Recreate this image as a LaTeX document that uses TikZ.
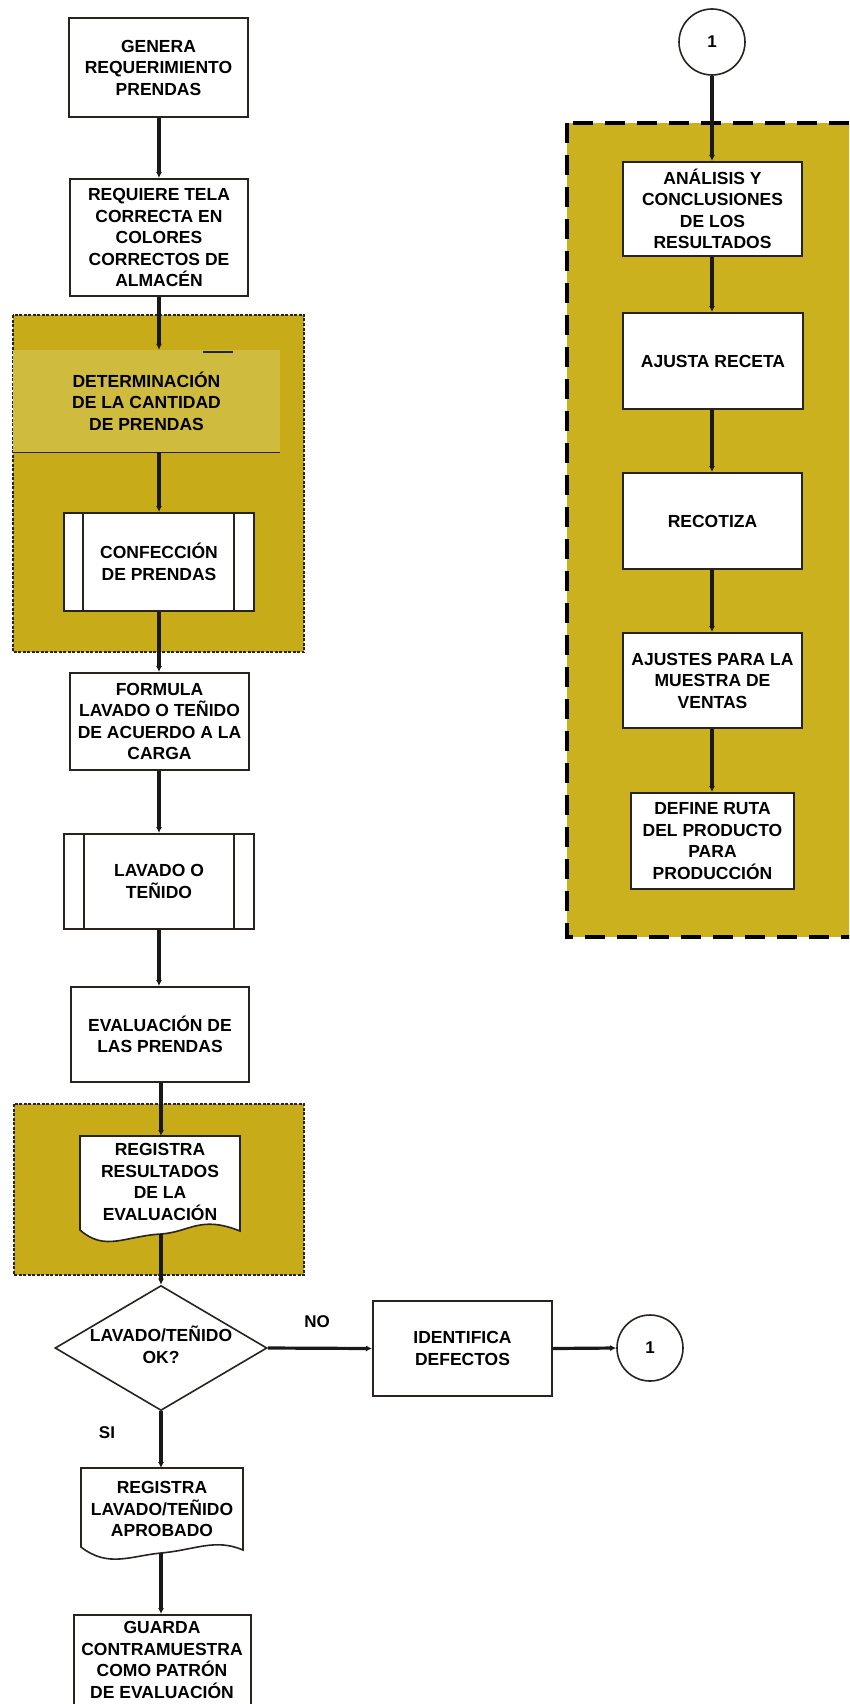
\documentclass[tikz,border=0pt]{standalone}
\usepackage{fontspec}
\setmainfont{Liberation Sans}
\usetikzlibrary{arrows.meta,shapes.geometric}
\definecolor{mustard}{RGB}{200,171,24}
\definecolor{mustardlight}{RGB}{207,187,62}
\definecolor{mustardright}{RGB}{204,177,30}
\definecolor{edge}{RGB}{40,35,30}
\tikzset{
  x=1pt,y=-1pt,
  txt/.style={font=\fontsize{17.5}{21.5}\selectfont\bfseries, align=center, text=black},
  box/.style={txt, draw=edge, line width=2pt, fill=white, inner sep=0pt},
  link/.style={draw=black!90, line width=3.2pt, -{Latex[length=6pt,width=6pt]}},
  conn/.style={circle, draw=edge, line width=1.6pt, fill=white, minimum size=66pt, inner sep=0pt, font=\fontsize{17}{20}\selectfont\bfseries},
  lbl/.style={font=\fontsize{17}{20}\selectfont\bfseries, text=black},
}
\newcommand{\boxat}[6]{% name, x0,y0,x1,y1, text
  \node[box, minimum width={#4-#2}, minimum height={#5-#3}] (#1) at ({(#2+#4)/2},{(#3+#5)/2}) {#6};}
\begin{document}
\begin{tikzpicture}
\useasboundingbox (0,0) rectangle (849,1704);
\clip (0,0) rectangle (849,1704);
\fill[white] (0,0) rectangle (849,1704);

% yellow regions
\fill[mustard] (13,315) rectangle (304,652);
\draw[edge, line width=1.3pt, dash pattern=on 3pt off 1.5pt] (13,315) rectangle (304,652);
\fill[mustard] (14,1104) rectangle (304,1275);
\draw[edge, line width=1.3pt, dash pattern=on 3pt off 1.5pt] (14,1104) rectangle (304,1275);
\fill[mustardright] (567,123) rectangle (870,937);
\draw[black, line width=3.6pt, dash pattern=on 20pt off 12pt] (567,123) rectangle (870,937);

% left column
\boxat{genera}{69}{18}{248}{117}{GENERA\\REQUERIMIENTO\\PRENDAS}
\boxat{requiere}{70}{179}{248}{296}{REQUIERE TELA\\CORRECTA EN\\COLORES\\CORRECTOS DE\\ALMACÉN}
\node[txt, fill=mustardlight, minimum width=267pt, minimum height=102pt, inner sep=0pt] (determ) at (146.5,401) {DETERMINACIÓN\\DE LA CANTIDAD\\DE PRENDAS};
\draw[edge, line width=1.2pt] (determ.south west) -- (determ.south east);
\draw[edge, line width=2.2pt] (203,352) -- (233,352);
\boxat{confec}{64}{513}{254}{611}{CONFECCIÓN\\DE PRENDAS}
\draw[edge, line width=1.6pt] (83,513) -- (83,611) (234,513) -- (234,611);
\boxat{formula}{70}{673}{249}{770}{FORMULA\\LAVADO O TEÑIDO\\DE ACUERDO A LA\\CARGA}
\boxat{lavado}{64}{834}{254}{929}{LAVADO O\\TEÑIDO}
\draw[edge, line width=1.6pt] (84,834) -- (84,929) (234,834) -- (234,929);
\boxat{evalua}{71}{987}{249}{1082}{EVALUACIÓN DE\\LAS PRENDAS}

% document 1
\draw[edge, line width=1.6pt, fill=white] (80,1136) -- (240,1136) -- (240,1231)
  .. controls (200,1215) and (190,1232) .. (161,1234)
  .. controls (125,1236) and (105,1252) .. (80,1230) -- cycle;
\node[txt, inner sep=0pt] (regres) at (160,1182) {REGISTRA\\RESULTADOS\\DE LA\\EVALUACIÓN};
\coordinate (regresbot) at (161,1234);
\coordinate (regrestop) at (161,1136);

% decision
\node[diamond, draw=edge, line width=1.6pt, fill=white, minimum width=212pt, minimum height=125pt, inner sep=0pt, aspect=1.7] (dec) at (161,1348) {};
\node[txt] (dectext) at (161,1345) {LAVADO/TEÑIDO\\OK?};
\node[lbl] (no) at (317,1322) {NO};
\node[lbl] (si) at (107,1433) {SI};

\boxat{ident}{373}{1301}{552}{1396}{IDENTIFICA\\DEFECTOS}
\node[conn] (c1b) at (650,1348) {1};

% document 2
\draw[edge, line width=1.6pt, fill=white] (81,1468) -- (243,1468) -- (243,1550)
  .. controls (215,1538) and (195,1550) .. (161,1553)
  .. controls (130,1556) and (108,1568) .. (81,1547) -- cycle;
\node[txt, inner sep=0pt] (reglav) at (162,1509) {REGISTRA\\LAVADO/TEÑIDO\\APROBADO};
\coordinate (reglavbot) at (161,1553);
\coordinate (reglavtop) at (161,1468);

\boxat{guarda}{74}{1615}{251}{1720}{}
\node[txt, inner sep=0pt] (guardatext) at (162,1660) {GUARDA\\CONTRAMUESTRA\\COMO PATRÓN\\DE EVALUACIÓN};

% right column
\node[conn] (c1a) at (712,42) {1};
\boxat{analisis}{623}{162}{802}{256}{ANÁLISIS Y\\CONCLUSIONES\\DE LOS\\RESULTADOS}
\boxat{ajusta}{623}{313}{803}{409}{AJUSTA RECETA}
\boxat{recotiza}{623}{473}{802}{569}{RECOTIZA}
\boxat{ajustes}{623}{633}{802}{728}{AJUSTES PARA LA\\MUESTRA DE\\VENTAS}
\boxat{define}{631}{793}{794}{889}{DEFINE RUTA\\DEL PRODUCTO\\PARA\\PRODUCCIÓN}

% connectors left
\draw[link] (genera.south -| 159,0) -- (requiere.north -| 159,0);
\draw[link] (requiere.south -| 159,0) -- (determ.north -| 159,0);
\draw[link] (determ.south -| 159,0) -- (confec.north -| 159,0);
\draw[link] (confec.south -| 159,0) -- (formula.north -| 159,0);
\draw[link] (formula.south -| 159,0) -- (lavado.north -| 159,0);
\draw[link] (lavado.south -| 159,0) -- (evalua.north -| 159,0);
\draw[link] (evalua.south -| regrestop) -- (regrestop);
\draw[link] (regresbot) -- (dec.north);
\draw[link] (dec.south) -- (reglavtop);
\draw[link] (reglavbot) -- (guarda.north -| reglavbot);
\draw[link] (dec.east) -- (ident.west);
\draw[link] (ident.east) -- (c1b.west);

% connectors right
\draw[link] (c1a.south) -- (analisis.north -| c1a);
\draw[link] (analisis.south -| c1a) -- (ajusta.north -| c1a);
\draw[link] (ajusta.south -| c1a) -- (recotiza.north -| c1a);
\draw[link] (recotiza.south -| c1a) -- (ajustes.north -| c1a);
\draw[link] (ajustes.south -| c1a) -- (define.north -| c1a);
\end{tikzpicture}
\end{document}
